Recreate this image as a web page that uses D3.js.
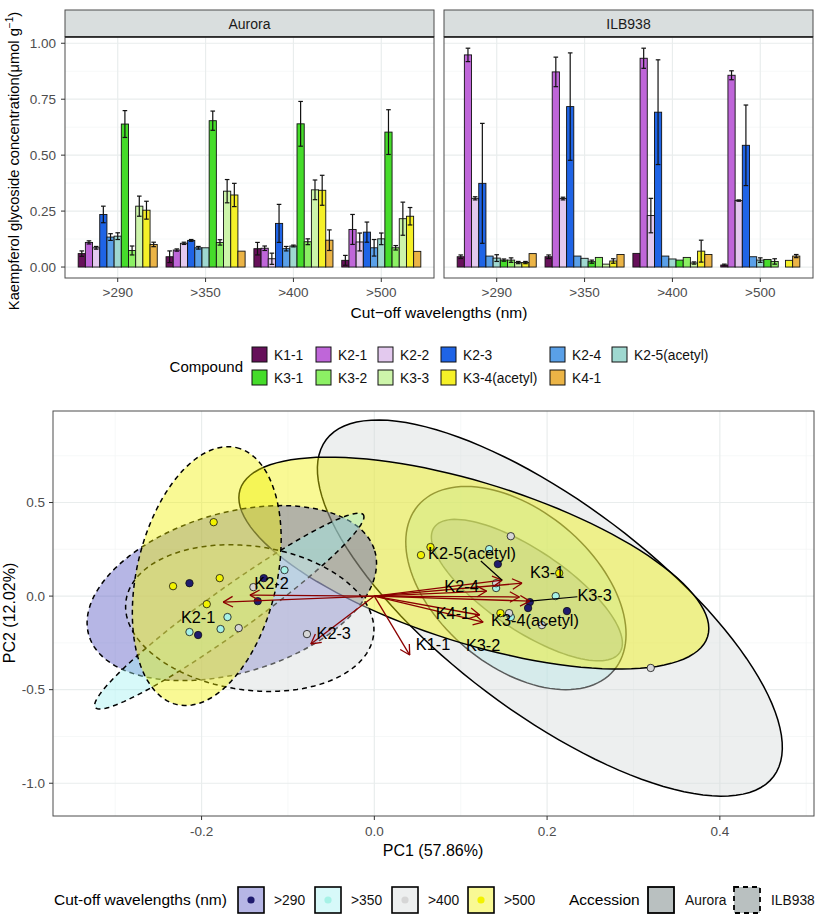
<!DOCTYPE html>
<html><head><meta charset="utf-8">
<script src="https://cdn.jsdelivr.net/npm/d3@7"></script>
<style>body{margin:0;background:#fff;} text{font-family:"Liberation Sans",Arial,Helvetica,sans-serif;}</style>
</head><body><svg id="c" width="817" height="916" xmlns="http://www.w3.org/2000/svg"></svg>
<script>
// ---------------- DATA ----------------
const compounds = ["K1-1","K2-1","K2-2","K2-3","K2-4","K2-5(acetyl)","K3-1","K3-2","K3-3","K3-4(acetyl)","K4-1"];
const compoundColors = ["#66105a","#bf66d9","#e3c9ee","#1f64e6","#5aa0e8","#9fd8d0","#45dc2a","#8cf064","#cdf5aa","#f5f028","#ebb446"];
const wavelengths = [">290",">350",">400",">500"];
const accessions = ["Aurora","ILB938"];
const yTicksTop = [0,0.25,0.5,0.75,1.0];

// mean concentration per wavelength (rows) and compound (columns)
const auroraMean = [
  [0.060,0.110,0.086,0.235,0.134,0.138,0.639,0.074,0.272,0.254,0.101],
  [0.046,0.076,0.106,0.119,0.086,0.086,0.654,0.110,0.339,0.322,0.071],
  [0.082,0.084,0.037,0.195,0.082,0.094,0.640,0.113,0.345,0.343,0.120],
  [0.030,0.168,0.112,0.156,0.086,0.126,0.603,0.086,0.216,0.227,0.070]
];
const auroraErr = [
  [0.012,0.007,0.006,0.037,0.015,0.015,0.060,0.020,0.045,0.040,0.010],
  [0.026,0.005,0.005,0.004,0.006,0.000,0.043,0.012,0.052,0.052,0.000],
  [0.028,0.010,0.025,0.085,0.010,0.004,0.100,0.013,0.044,0.067,0.046],
  [0.022,0.067,0.040,0.045,0.037,0.026,0.100,0.010,0.074,0.039,0.000]
];
const ilbMean = [
  [0.046,0.948,0.307,0.374,0.049,0.040,0.031,0.031,0.020,0.020,0.060],
  [0.046,0.872,0.306,0.717,0.049,0.039,0.024,0.043,0.013,0.027,0.056],
  [0.061,0.933,0.230,0.692,0.049,0.036,0.031,0.043,0.018,0.071,0.056],
  [0.009,0.857,0.297,0.544,0.046,0.031,0.034,0.025,null,0.030,0.049]
];
const ilbErr = [
  [0.008,0.030,0.007,0.268,0.000,0.015,0.005,0.010,0.005,0.005,0.000],
  [0.008,0.066,0.006,0.240,0.000,0.000,0.007,0.000,0.000,0.010,0.000],
  [0.000,0.045,0.077,0.234,0.000,0.000,0.000,0.000,0.005,0.049,0.000],
  [0.004,0.020,0.003,0.180,0.000,0.010,0.000,0.012,0.000,0.000,0.007]
];

// PCA scores: [PC1, PC2, wavelength index, accession index]
const pcaScores = [
  [-0.214,0.069,0,1],[-0.128,0.096,0,1],[-0.135,-0.027,0,1],[-0.204,-0.208,0,1],
  [0.143,0.171,0,0],[0.180,-0.032,0,0],[0.178,-0.064,0,0],[0.223,-0.080,0,0],
  [-0.104,0.139,1,1],[-0.170,-0.112,1,1],[-0.214,-0.192,1,1],[-0.178,-0.176,1,1],
  [0.133,0.251,1,0],[0.141,0.043,1,0],[0.210,0.000,1,0],[0.158,-0.112,1,0],
  [-0.140,0.048,2,1],[-0.157,-0.171,2,1],[-0.078,-0.203,2,1],
  [0.158,0.320,2,0],[0.156,-0.091,2,0],[0.194,-0.155,2,0],[0.320,-0.384,2,0],[0.141,0.069,2,0],
  [-0.186,0.395,3,1],[-0.233,0.053,3,1],[-0.179,0.096,3,1],[-0.194,-0.043,3,1],
  [0.054,0.219,3,0],[0.065,0.262,3,0],[0.214,0.123,3,0],[0.146,-0.091,3,0]
];
// confidence ellipses: centre and two conjugate semi-axes, PC units; [cx,cy,ux,uy,vx,vy,wavelength,accession]
const ellipses = [
  [0.1766,0.0320,0.1075,-0.334,-0.0259,-0.177,0,0],
  [0.1639,0.0430,0.1135,-0.4394,-0.0581,-0.3187,1,0],
  [0.2032,-0.0641,0.2590,-0.8996,-0.0732,-0.4479,2,0],
  [0.1152,0.1762,0.2706,-0.3935,-0.0279,-0.4074,3,0],
  [-0.1650,0.0160,0.1655,0.2258,0.0263,-0.4095,0,1],
  [-0.1679,-0.0801,0.1552,0.5147,0.0148,-0.0955,1,1],
  [-0.1442,-0.1175,0.1433,-0.0929,-0.0116,-0.3807,2,1],
  [-0.1940,0.1068,0.0344,0.6866,0.0790,-0.0841,3,1]
];
// loadings (arrow tips) per compound
const loadPC1 = [0.041,-0.175,-0.144,-0.0735,0.130,0.148,0.171,0.126,0.180,0.168,0.122];
const loadPC2 = [-0.315,-0.032,0.005,-0.256,0.027,0.085,0.069,-0.139,-0.027,-0.005,-0.101];
// repelled label positions
const labPC1 = [0.068,-0.204,-0.119,-0.047,0.101,0.113,0.200,0.126,0.255,0.186,0.091];
const labPC2 = [-0.256,-0.112,0.069,-0.198,0.053,0.230,0.128,-0.262,0.005,-0.128,-0.091];

const pointFill = ["#1f1b6e","#a6f2e6","#d6d6d6","#f2f200"];
const ellipseFill = ["#5252c0","#a0f0f0","#d5dada","#f0f000"];
const pcaXMajor = [-0.2,0,0.2,0.4], pcaXMinor = [-0.3,-0.1,0.1,0.3,0.5];
const pcaYMajor = [-1.0,-0.5,0,0.5], pcaYMinor = [-0.75,-0.25,0.25,0.75];

// ---------------- DRAW ----------------
const svg = d3.select("#c");
const gridMaj = "#e9eded", gridMin = "#f4f6f6", axisTxt = "#4d4d4d";

// ===== Top bar chart =====
const yTop = d3.scaleLinear().domain([-0.049,1.028]).range([278,37]);
const panelW = 369;
const panels = [
  {name:"Aurora", x0:65, mean:auroraMean, err:auroraErr},
  {name:"ILB938", x0:444, mean:ilbMean, err:ilbErr}
];
panels.forEach(p => {
  const x = d3.scalePoint().domain(wavelengths).range([p.x0, p.x0+panelW]).padding(0.6);
  const step = x.step();
  const g = svg.append("g");
  g.append("rect").attr("x",p.x0).attr("y",37).attr("width",panelW).attr("height",241).attr("fill","#fff");
  [0.125,0.375,0.625,0.875].forEach(v=>g.append("line").attr("x1",p.x0).attr("x2",p.x0+panelW)
    .attr("y1",yTop(v)).attr("y2",yTop(v)).attr("stroke",gridMin).attr("stroke-width",0.8));
  yTicksTop.forEach(v=>g.append("line").attr("x1",p.x0).attr("x2",p.x0+panelW)
    .attr("y1",yTop(v)).attr("y2",yTop(v)).attr("stroke",gridMaj).attr("stroke-width",1.2));
  wavelengths.forEach(w=>g.append("line").attr("x1",x(w)).attr("x2",x(w)).attr("y1",37).attr("y2",278)
    .attr("stroke",gridMaj).attr("stroke-width",1.2));
  const bw = step*0.9/compounds.length;
  wavelengths.forEach((w,wi)=>{
    compounds.forEach((c,ci)=>{
      const v = p.mean[wi][ci];
      if (v===null) return;
      const bx = x(w) - step*0.45 + ci*bw;
      g.append("rect").attr("x",bx).attr("y",yTop(v)).attr("width",bw).attr("height",yTop(0)-yTop(v))
        .attr("fill",compoundColors[ci]).attr("stroke","#111").attr("stroke-width",0.9);
      const e = p.err[wi][ci];
      if (e>0.002){
        const cx = bx+bw/2;
        g.append("line").attr("x1",cx).attr("x2",cx).attr("y1",yTop(v-e)).attr("y2",yTop(v+e)).attr("stroke","#111").attr("stroke-width",1.2);
        [v-e,v+e].forEach(t=>g.append("line").attr("x1",cx-2.3).attr("x2",cx+2.3).attr("y1",yTop(t)).attr("y2",yTop(t)).attr("stroke","#111").attr("stroke-width",1.2));
      }
    });
  });
  g.append("rect").attr("x",p.x0).attr("y",37).attr("width",panelW).attr("height",241).attr("fill","none").attr("stroke","#4d4d4d").attr("stroke-width",1);
  g.append("rect").attr("x",p.x0).attr("y",10).attr("width",panelW).attr("height",26.5).attr("fill","#d9dede").attr("stroke","#4d4d4d").attr("stroke-width",1);
  g.append("line").attr("x1",p.x0).attr("x2",p.x0+panelW).attr("y1",37).attr("y2",37).attr("stroke","#222").attr("stroke-width",1.3);
  g.append("text").attr("x",p.x0+panelW/2).attr("y",28.5).attr("text-anchor","middle").attr("font-size",14).attr("fill","#1a1a1a").text(p.name);
  wavelengths.forEach(w=>{
    g.append("line").attr("x1",x(w)).attr("x2",x(w)).attr("y1",278).attr("y2",282).attr("stroke","#333");
    g.append("text").attr("x",x(w)).attr("y",297).attr("text-anchor","middle").attr("font-size",13.5).attr("fill",axisTxt).text(w);
  });
});
yTicksTop.forEach(v=>{
  svg.append("line").attr("x1",61).attr("x2",65).attr("y1",yTop(v)).attr("y2",yTop(v)).attr("stroke","#333");
  svg.append("text").attr("x",56).attr("y",yTop(v)+4.7).attr("text-anchor","end").attr("font-size",13.5).attr("fill",axisTxt).text(v.toFixed(2));
});
const yt = svg.append("text").attr("transform","translate(19,161) rotate(-90)").attr("text-anchor","middle").attr("font-size",14.7).attr("fill","#000");
yt.append("tspan").text("Kaempferol glycoside concentration(μmol g");
yt.append("tspan").attr("font-size",10).attr("dy",-6).text("−1");
yt.append("tspan").attr("dy",6).text(")");
svg.append("text").attr("x",439).attr("y",318).attr("text-anchor","middle").attr("font-size",15.5).text("Cut−off wavelengths (nm)");

// Compound legend
svg.append("text").attr("x",243).attr("y",372).attr("text-anchor","end").attr("font-size",15).text("Compound");
const legCols = [252,316,378,441,550,612];
compounds.forEach((c,i)=>{
  const row = i<6?0:1, col = i<6?i:i-6;
  const kx = legCols[col], ky = row===0?347:370;
  svg.append("rect").attr("x",kx).attr("y",ky).attr("width",15).attr("height",15).attr("fill",compoundColors[i]).attr("stroke","#111").attr("stroke-width",1);
  svg.append("text").attr("x",kx+22).attr("y",ky+12.5).attr("font-size",13.8).attr("fill","#111").text(c);
});

// ===== PCA biplot =====
const px = d3.scaleLinear().domain([-0.372,0.509]).range([53,814]);
const py = d3.scaleLinear().domain([-1.175,0.989]).range([816,411]);
const pg = svg.append("g");
svg.append("clipPath").attr("id","pc").append("rect").attr("x",53).attr("y",411).attr("width",761).attr("height",405);
const pin = pg.append("g").attr("clip-path","url(#pc)");
pcaXMinor.forEach(v=>pin.append("line").attr("x1",px(v)).attr("x2",px(v)).attr("y1",411).attr("y2",816).attr("stroke",gridMin).attr("stroke-width",0.8));
pcaYMinor.forEach(v=>pin.append("line").attr("y1",py(v)).attr("y2",py(v)).attr("x1",53).attr("x2",814).attr("stroke",gridMin).attr("stroke-width",0.8));
pcaXMajor.forEach(v=>pin.append("line").attr("x1",px(v)).attr("x2",px(v)).attr("y1",411).attr("y2",816).attr("stroke",gridMaj).attr("stroke-width",1.2));
pcaYMajor.forEach(v=>pin.append("line").attr("y1",py(v)).attr("y2",py(v)).attr("x1",53).attr("x2",814).attr("stroke",gridMaj).attr("stroke-width",1.2));

const eLine = d3.line().x(d=>px(d[0])).y(d=>py(d[1])).curve(d3.curveLinearClosed);
ellipses.forEach(e=>{
  const pts = d3.range(120).map(k=>{const t=k/120*2*Math.PI; return [e[0]+Math.cos(t)*e[2]+Math.sin(t)*e[4], e[1]+Math.cos(t)*e[3]+Math.sin(t)*e[5]];});
  pin.append("path").attr("d",eLine(pts)).attr("fill",ellipseFill[e[6]]).attr("fill-opacity",0.42)
    .attr("stroke","#000").attr("stroke-width",1.5).attr("stroke-dasharray",e[7]===1?"5,4":null);
});
pcaScores.forEach(s=>{
  pin.append("circle").attr("cx",px(s[0])).attr("cy",py(s[1])).attr("r",3.7).attr("fill",pointFill[s[2]]).attr("stroke","#111").attr("stroke-width",0.8);
});
const ar = "#8b0000";
compounds.forEach((c,i)=>{
  const x0=px(0), y0=py(0), x1=px(loadPC1[i]), y1=py(loadPC2[i]);
  pin.append("line").attr("x1",x0).attr("y1",y0).attr("x2",x1).attr("y2",y1).attr("stroke",ar).attr("stroke-width",1.3);
  const ang = Math.atan2(y1-y0,x1-x0), L=11;
  [-0.5,0.5].forEach(da=>pin.append("line").attr("x1",x1).attr("y1",y1)
     .attr("x2",x1-L*Math.cos(ang+da)).attr("y2",y1-L*Math.sin(ang+da)).attr("stroke",ar).attr("stroke-width",1.3));
});
compounds.forEach((c,i)=>{
  const lx=px(labPC1[i]), ly=py(labPC2[i]);
  const t = pin.append("text").attr("x",lx).attr("y",ly).attr("dy","0.35em").attr("text-anchor","middle").attr("font-size",16.3).attr("fill","#000").text(c);
  const w = t.node().getComputedTextLength()/2, h=8;
  const tx=px(loadPC1[i]), ty=py(loadPC2[i]);
  const dx = Math.max(Math.abs(tx-lx)-w,0), dy=Math.max(Math.abs(ty-ly)-h,0);
  if (Math.hypot(dx,dy)>16){
    const vx=tx-lx, vy=ty-ly; const s=Math.min(w/Math.abs(vx||1e-9), h/Math.abs(vy||1e-9));
    pin.insert("line","text").attr("x1",lx+vx*s).attr("y1",ly+vy*s).attr("x2",tx).attr("y2",ty).attr("stroke","#000").attr("stroke-width",1.2);
  }
});
pg.append("rect").attr("x",53).attr("y",411).attr("width",761).attr("height",405).attr("fill","none").attr("stroke","#4d4d4d").attr("stroke-width",1);
pcaXMajor.forEach(v=>{
  pg.append("line").attr("x1",px(v)).attr("x2",px(v)).attr("y1",816).attr("y2",820).attr("stroke","#333");
  pg.append("text").attr("x",px(v)).attr("y",836).attr("text-anchor","middle").attr("font-size",13.5).attr("fill",axisTxt).text(v.toFixed(1));
});
pcaYMajor.forEach(v=>{
  pg.append("line").attr("x1",49).attr("x2",53).attr("y1",py(v)).attr("y2",py(v)).attr("stroke","#333");
  pg.append("text").attr("x",45).attr("y",py(v)+4.7).attr("text-anchor","end").attr("font-size",13.5).attr("fill",axisTxt).text(v.toFixed(1));
});
svg.append("text").attr("x",433).attr("y",856).attr("text-anchor","middle").attr("font-size",16).text("PC1 (57.86%)");
svg.append("text").attr("transform","translate(15,613) rotate(-90)").attr("text-anchor","middle").attr("font-size",16).text("PC2 (12.02%)");

// bottom legend
svg.append("text").attr("x",54).attr("y",905).attr("font-size",15.5).text("Cut-off wavelengths (nm)");
const wlKeyX = [238,315,392,468];
wavelengths.forEach((w,i)=>{
  const kx=wlKeyX[i];
  svg.append("rect").attr("x",kx).attr("y",887).attr("width",26).attr("height",26).attr("fill","#fff");
  svg.append("rect").attr("x",kx).attr("y",887).attr("width",26).attr("height",26).attr("fill",ellipseFill[i]).attr("fill-opacity",0.42).attr("stroke","#000").attr("stroke-width",1.6);
  svg.append("circle").attr("cx",kx+13).attr("cy",900).attr("r",3.6).attr("fill",pointFill[i]);
  svg.append("text").attr("x",kx+36).attr("y",905).attr("font-size",13.8).attr("fill","#111").text(w);
});
svg.append("text").attr("x",569).attr("y",905).attr("font-size",15.5).text("Accession");
const accKeyX=[648,734];
accessions.forEach((a,i)=>{
  const kx=accKeyX[i];
  svg.append("rect").attr("x",kx).attr("y",887).attr("width",26).attr("height",26).attr("fill","#b9c0c0")
    .attr("stroke","#000").attr("stroke-width",1.8).attr("stroke-dasharray",i===1?"5,4":null);
  svg.append("text").attr("x",kx+37).attr("y",905).attr("font-size",13.8).attr("fill","#111").text(a);
});
</script></body></html>
